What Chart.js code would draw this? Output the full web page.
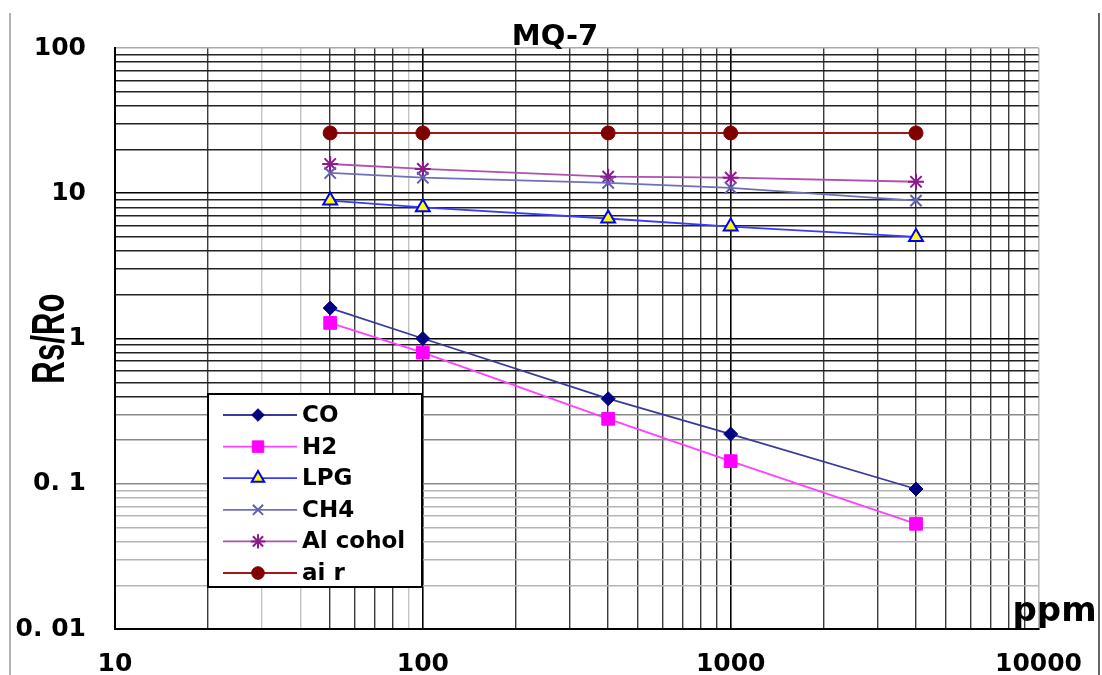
<!DOCTYPE html>
<html>
<head>
<meta charset="utf-8">
<title>MQ-7</title>
<script src="https://cdn.jsdelivr.net/npm/chart.js@4/dist/chart.umd.min.js"></script>
<style>
  body { margin: 0; background: #fff; }
  #wrap { width: 1102px; height: 675px; }
</style>
</head>
<body>
<div id="wrap"><canvas id="sensor" width="1102" height="675"></canvas></div>
<script>
var ppm = [50, 100, 400, 1000, 4000];
var co = [1.62, 1.0, 0.385, 0.22, 0.092];
var h2 = [1.28, 0.80, 0.28, 0.143, 0.053];
var lpg = [8.9, 8.0, 6.7, 5.9, 5.0];
var ch4 = [13.8, 12.8, 11.8, 10.9, 8.9];
var alcohol = [15.9, 14.7, 13.0, 12.8, 12.0];
var air = [26, 26, 26, 26, 26];

var xTickValues = [10, 100, 1000, 10000];
var xTickLabels = ['10', '100', '1000', '10000'];
var yTickValues = [0.01, 0.1, 1, 10, 100];
var yTickLabels = ['0. 01', '0. 1', '1', '10', '100'];

Chart.defaults.font.family = '"DejaVu Sans"';
Chart.defaults.color = '#000';

function series(values) {
    return ppm.map(function (x, i) { return {x: x, y: values[i]}; });
}

// every 1..9 step of each decade, for the grid
function logGrid(lo, hi) {
    var out = [];
    for (var e = Math.round(Math.log10(lo)); e < Math.round(Math.log10(hi)); e++) {
	for (var m = 1; m < 10; m++) out.push(m * Math.pow(10, e));
    }
    out.push(hi);
    return out;
}

function findLabel(values, labels, v) {
    for (var i = 0; i < values.length; i++) {
	if (Math.abs(Math.log10(values[i]) - Math.log10(v)) < 1e-6) return labels[i];
    }
    return '';
}

function isDecade(v) {
    var l = Math.log10(v);
    return Math.abs(l - Math.round(l)) < 1e-6;
}

function xGridColor(c) {
    var v = c.tick.value;
    if (v >= 9999) return '#bbb';
    if (isDecade(v)) return '#000';
    if (v < 100 && [30, 40, 90].indexOf(Math.round(v)) >= 0) return '#c4c4c4';
    return '#3a3a3a';
}

function yGridColor(c) {
    var v = c.tick.value;
    if (v >= 99) return '#aaa';
    if (isDecade(v) && v > 0.5) return '#000';
    if (v < 0.099) return '#b5b5b5';
    if (v < 0.39) return '#8a8a8a';
    return '#222';
}

var boxLegend = {
    id: 'boxLegend',
    afterDraw: function (chart) {
	var ctx = chart.ctx;
	var left = 208, top = 394, right = 422, bottom = 587;
	ctx.save();
	ctx.fillStyle = '#fff';
	ctx.fillRect(left, top, right - left, bottom - top);
	ctx.strokeStyle = '#000';
	ctx.lineWidth = 2;
	ctx.strokeRect(left, top, right - left, bottom - top);
	chart.data.datasets.forEach(function (ds, i) {
	    var y = 415 + i * 31.6;
	    ctx.strokeStyle = ds.borderColor;
	    ctx.lineWidth = ds.borderWidth;
	    ctx.beginPath();
	    ctx.moveTo(223, y);
	    ctx.lineTo(297, y);
	    ctx.stroke();
	    ctx.fillStyle = ds.pointBackgroundColor || '#fff';
	    ctx.strokeStyle = ds.pointBorderColor;
	    ctx.lineWidth = ds.pointBorderWidth;
	    Chart.helpers.drawPoint(ctx, {
		pointStyle: ds.pointStyle,
		radius: ds.pointRadius * 0.9,
		rotation: 0,
		borderWidth: ds.pointBorderWidth
	    }, 258, y);
	    ctx.fillStyle = '#000';
	    ctx.font = 'bold 23px "DejaVu Sans"';
	    ctx.textAlign = 'left';
	    ctx.textBaseline = 'middle';
	    ctx.fillText(ds.label, 302, y + 1);
	});
	ctx.restore();
    }
};

var chartText = {
    id: 'chartText',
    afterDraw: function (chart) {
	var ctx = chart.ctx;
	var ca = chart.chartArea;
	ctx.save();
	ctx.lineWidth = 1.5;
	ctx.strokeStyle = '#999';
	ctx.beginPath();
	ctx.moveTo(10, 13);
	ctx.lineTo(10, 675);
	ctx.stroke();
	ctx.strokeStyle = '#333';
	ctx.beginPath();
	ctx.moveTo(1099, 13);
	ctx.lineTo(1099, 675);
	ctx.stroke();

	ctx.fillStyle = '#000';
	ctx.textBaseline = 'alphabetic';
	ctx.textAlign = 'center';
	ctx.font = 'bold 29px "DejaVu Sans"';
	ctx.fillText('MQ-7', ca.left + 440, ca.top - 3);

	ctx.textAlign = 'left';
	ctx.font = 'bold 34px "DejaVu Sans"';
	ctx.fillText('ppm', ca.right - 26, ca.bottom - 8);

	ctx.translate(64, (ca.top + ca.bottom) / 2);
	ctx.rotate(-Math.PI / 2);
	ctx.scale(0.68, 1);
	ctx.textAlign = 'center';
	ctx.font = 'bold 46px "Liberation Sans"';
	ctx.fillText('Rs/Ro', 0, 0);
	ctx.restore();
    }
};

var ctx = document.getElementById('sensor').getContext('2d');
var chart = new Chart(ctx, {
    type: 'line',
    data: {
	datasets: [
	    {
		label: 'CO', data: series(co),
		borderColor: '#3a3a9c', borderWidth: 1.8,
		pointStyle: 'rectRot', pointRadius: 7,
		pointBackgroundColor: '#000080', pointBorderColor: '#000080', pointBorderWidth: 1
	    },
	    {
		label: 'H2', data: series(h2),
		borderColor: '#ff40ff', borderWidth: 1.8,
		pointStyle: 'rect', pointRadius: 9,
		pointBackgroundColor: '#ff00ff', pointBorderColor: '#ff00ff', pointBorderWidth: 1
	    },
	    {
		label: 'LPG', data: series(lpg),
		borderColor: '#3a3aff', borderWidth: 1.8,
		pointStyle: 'triangle', pointRadius: 8,
		pointBackgroundColor: '#ffff00', pointBorderColor: '#0000ff', pointBorderWidth: 2
	    },
	    {
		label: 'CH4', data: series(ch4),
		borderColor: '#7070b8', borderWidth: 1.8,
		pointStyle: 'crossRot', pointRadius: 8,
		pointBackgroundColor: '#6060b0', pointBorderColor: '#6060b0', pointBorderWidth: 2
	    },
	    {
		label: 'Al cohol', data: series(alcohol),
		borderColor: '#b050b0', borderWidth: 1.8,
		pointStyle: 'star', pointRadius: 8,
		pointBackgroundColor: '#8b1a8b', pointBorderColor: '#8b1a8b', pointBorderWidth: 2
	    },
	    {
		label: 'ai r', data: series(air),
		borderColor: '#a01818', borderWidth: 1.8,
		pointStyle: 'circle', pointRadius: 7,
		pointBackgroundColor: '#800000', pointBorderColor: '#800000', pointBorderWidth: 1
	    }
	]
    },
    options: {
	responsive: false,
	animation: false,
	events: [],
	layout: {
	    padding: {top: 48, right: 62, left: 0, bottom: 0}
	},
	elements: {
	    line: {tension: 0, fill: false}
	},
	plugins: {
	    legend: {display: false},
	    tooltip: {enabled: false}
	},
	scales: {
	    x: {
		type: 'logarithmic',
		min: 10,
		max: 10000,
		afterBuildTicks: function (scale) {
		    scale.ticks = logGrid(10, 10000).map(function (v) { return {value: v}; });
		},
		afterFit: function (scale) { scale.height = 46; },
		ticks: {
		    autoSkip: false,
		    maxRotation: 0,
		    padding: 20,
		    font: {size: 25, weight: 'bold'},
		    callback: function (v) { return findLabel(xTickValues, xTickLabels, v); }
		},
		grid: {
		    drawTicks: false,
		    color: xGridColor,
		    lineWidth: function (c) { return isDecade(c.tick.value) ? 1.6 : 1.4; }
		},
		border: {color: '#000', width: 2}
	    },
	    y: {
		type: 'logarithmic',
		min: 0.01,
		max: 100,
		afterBuildTicks: function (scale) {
		    scale.ticks = logGrid(0.01, 100).map(function (v) { return {value: v}; });
		},
		afterFit: function (scale) { scale.width = 115; },
		ticks: {
		    autoSkip: false,
		    padding: 29,
		    font: {size: 25, weight: 'bold'},
		    callback: function (v) { return findLabel(yTickValues, yTickLabels, v); }
		},
		grid: {
		    drawTicks: false,
		    color: yGridColor,
		    lineWidth: function (c) { return isDecade(c.tick.value) ? 1.6 : 1.4; }
		},
		border: {color: '#000', width: 2}
	    }
	}
    },
    plugins: [boxLegend, chartText]
});
</script>
</body>
</html>
